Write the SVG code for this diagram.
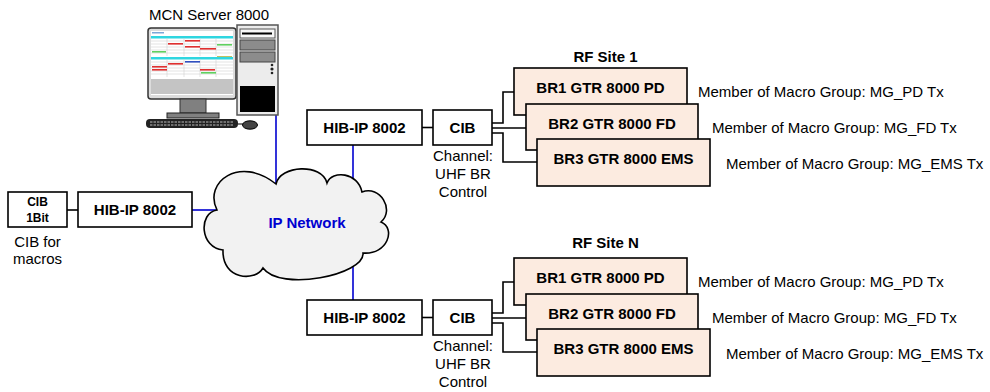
<svg xmlns="http://www.w3.org/2000/svg" width="990" height="392" viewBox="0 0 990 392">
  <style>
    text { font-family: "Liberation Sans", Arial, sans-serif; font-size: 15px; fill: #000; }
    .b { font-weight: bold; }
    .mid { text-anchor: middle; }
    .box { fill: #fff; stroke: #000; stroke-width: 1.6; }
    .br { fill: #fcebe0; stroke: #000; stroke-width: 1.6; }
    .wire { fill: none; stroke: #000; stroke-width: 1.6; }
    .ip { fill: none; stroke: #0000d0; stroke-width: 1.6; }
    .cell { stroke: #d0d0d0; stroke-width: 0.6; }
  </style>
  <defs>
    <!-- one RF site: three base radios stacked with offsets -->
    <g id="site">
      <rect class="br" x="514" y="68" width="173" height="47"/>
      <text class="b mid" x="600.5" y="93">BR1 GTR 8000 PD</text>
      <rect class="br" x="526" y="104" width="172" height="46"/>
      <text class="b mid" x="612" y="129">BR2 GTR 8000 FD</text>
      <rect class="br" x="537" y="139" width="173" height="47"/>
      <text class="b mid" x="623.5" y="164">BR3 GTR 8000 EMS</text>
      <text x="698" y="97">Member of Macro Group: MG_PD Tx</text>
      <text x="712" y="133">Member of Macro Group: MG_FD Tx</text>
      <text x="726" y="169">Member of Macro Group: MG_EMS Tx</text>
    </g>
    <g id="siteHead">
      <rect class="box" x="307" y="110" width="115" height="35"/>
      <text class="b mid" x="364.5" y="133">HIB-IP 8002</text>
      <rect class="box" x="433" y="110" width="59" height="35"/>
      <text class="b mid" x="462.5" y="133">CIB</text>
      <text class="mid" x="463" y="161">Channel:</text>
      <text class="mid" x="463" y="179">UHF BR</text>
      <text class="mid" x="463" y="197">Control</text>
    </g>
    <g id="siteWires">
      <path class="wire" d="M422 127.5H433"/>
      <path class="wire" d="M492 123H503V92H514"/>
      <path class="wire" d="M492 128H526"/>
      <path class="wire" d="M492 133H503V162H537"/>
    </g>
  </defs>

  <!-- connectors -->
  <g id="connectors">
    <path class="wire" d="M67 210H78"/>
    <path class="ip" d="M192 210H222"/>
    <path class="ip" d="M276 115V186"/>
    <path class="ip" d="M353 145V185"/>
    <path class="ip" d="M353 262V300"/>
    <use href="#siteWires"/>
    <use href="#siteWires" transform="translate(0,190)"/>
  </g>

  <!-- server workstation -->
  <g id="mcn-server">
    <text class="mid" x="209" y="20">MCN Server 8000</text>
    <!-- monitor -->
    <rect x="148" y="28" width="88" height="71" rx="3" fill="#dcdcdc" stroke="#333" stroke-width="1.5"/>
    <rect x="151" y="31" width="82" height="64" fill="#fff"/>
    <rect x="151" y="79" width="82" height="15" fill="#c4c4c4"/>
    <rect x="152" y="32" width="12" height="1.5" fill="#7aa7d8"/>
    <rect x="151" y="36" width="82" height="2.5" fill="#2fd6e0"/>
    <rect x="151" y="57" width="82" height="2.5" fill="#2fd6e0"/>
    <g class="cell">
      <path d="M151 41H233M151 44H233M151 47H233M151 50H233M151 53H233M151 62H233M151 65H233M151 68H233M151 71H233M151 74H233"/>
      <path d="M167 38V56M184 38V56M200 38V56M216 38V56M167 59V77M184 59V77M200 59V77M216 59V77"/>
    </g>
    <rect x="168" y="43" width="15" height="1.6" fill="#e03030"/>
    <rect x="185" y="40" width="15" height="1.6" fill="#e03030"/>
    <rect x="200" y="48" width="16" height="1.6" fill="#e03030"/>
    <rect x="217" y="44" width="15" height="1.6" fill="#60d060"/>
    <rect x="152" y="51" width="14" height="1.6" fill="#60d060"/>
    <rect x="185" y="46" width="15" height="1.6" fill="#e03030"/>
    <rect x="152" y="66" width="15" height="1.6" fill="#e03030"/>
    <rect x="152" y="69" width="15" height="1.6" fill="#e03030"/>
    <rect x="168" y="63" width="15" height="1.6" fill="#e03030"/>
    <rect x="185" y="61" width="15" height="1.6" fill="#3050c0"/>
    <rect x="200" y="69" width="15" height="1.6" fill="#e03030"/>
    <rect x="201" y="72" width="15" height="1.6" fill="#60d060"/>
    <rect x="217" y="56" width="15" height="1" fill="#c0c060"/>
    <!-- stand -->
    <rect x="180" y="99" width="26" height="14" fill="#808080" stroke="#333" stroke-width="1"/>
    <rect x="167" y="113" width="52" height="5" fill="#808080" stroke="#222" stroke-width="1"/>
    <!-- tower -->
    <rect x="237" y="25" width="41" height="90" fill="#ececec" stroke="#555" stroke-width="1.5"/>
    <rect x="240" y="29" width="35" height="9" fill="#f8f8f8" stroke="#555" stroke-width="1"/>
    <path d="M242 33.5H272" stroke="#000" stroke-width="2"/>
    <rect x="240" y="40" width="35" height="10" fill="#8c8c8c" stroke="#444" stroke-width="1"/>
    <rect x="240" y="52" width="35" height="10" fill="#8c8c8c" stroke="#444" stroke-width="1"/>
    <circle cx="272" cy="65" r="1.3" fill="#222"/>
    <circle cx="272" cy="69" r="1.6" fill="#222"/>
    <circle cx="272" cy="73" r="1.3" fill="#222"/>
    <rect x="240" y="86" width="35" height="26" fill="#000"/>
    <!-- keyboard and mouse -->
    <rect x="146" y="119" width="92" height="9" rx="4" fill="#222"/>
    <path d="M150 122H234M150 125H234" stroke="#bbb" stroke-width="1" stroke-dasharray="2.5 1"/>
    <path d="M238 124H243" stroke="#222" stroke-width="1.2"/>
    <ellipse cx="250" cy="125" rx="7.5" ry="4.2" fill="#444" stroke="#000" stroke-width="1"/>
  </g>

  <!-- IP network cloud -->
  <g id="ip-network">
    <path d="M217 210C203 182 240 155 276 184C280 165 322 163 327 183C332 170 358 172 362 192C380 185 395 210 381 222C396 228 388 255 363 253C365 275 280 292 263 268C255 282 222 280 223 250C200 248 198 213 217 210Z" fill="#f2f2f2" stroke="#000" stroke-width="1.6"/>
    <text class="b mid" x="307" y="228" fill="#0000d0" style="fill:#0000d0">IP Network</text>
  </g>

  <!-- macro CIB -->
  <g id="cib-1bit">
    <rect class="box" x="8" y="192" width="59" height="35"/>
    <text class="b mid" x="37.5" y="206" style="font-size:12px">CIB</text>
    <text class="b mid" x="37.5" y="222" style="font-size:12px">1Bit</text>
    <text class="mid" x="37.5" y="247">CIB for</text>
    <text class="mid" x="37.5" y="264">macros</text>
  </g>
  <g id="hib-macro">
    <rect class="box" x="78" y="192" width="114" height="35"/>
    <text class="b mid" x="135" y="215">HIB-IP 8002</text>
  </g>

  <!-- RF site 1 -->
  <g id="rf-site-1">
    <text class="b mid" x="605.5" y="62">RF Site 1</text>
    <use href="#siteHead"/>
    <use href="#site"/>
  </g>

  <!-- RF site N -->
  <g id="rf-site-n">
    <text class="b mid" x="605.5" y="248">RF Site N</text>
    <use href="#siteHead" transform="translate(0,190)"/>
    <use href="#site" transform="translate(0,190)"/>
  </g>
</svg>
